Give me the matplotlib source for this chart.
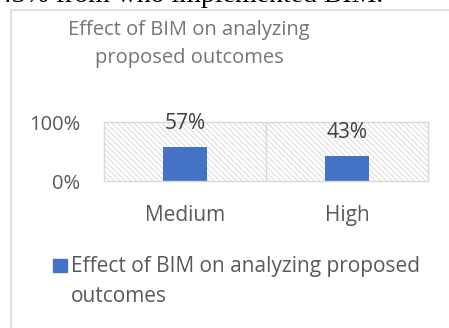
import matplotlib.pyplot as plt
from matplotlib.patches import Rectangle
from matplotlib.lines import Line2D

# data
categories = ['Medium', 'High']
values = [0.57, 0.43]
labels = ['57%', '43%']
label_y = [0.98, 0.83]   # labels were moved by hand in the original
yticks = [0, 1]
ytick_labels = ['0%', '100%']
series_name = 'Effect of BIM on analyzing proposed\noutcomes'
title = 'Effect of BIM on analyzing\nproposed outcomes'

plt.rcParams['font.family'] = ['Open Sans', 'DejaVu Sans']
plt.rcParams['hatch.linewidth'] = 0.6

fig = plt.figure(figsize=(4.49, 3.28), dpi=100)

# cropped caption line from the page above the chart
fig.text(-0.005, 1 - 1.5/328, '43% from who implemented BIM.', family='Liberation Serif',
         fontsize=20, color='black', va='baseline', ha='left')

# chart frame
fig.add_artist(Line2D([11/449, 11/449], [0, 1 - 10/328], color='#d9d9d9', lw=1.2,
                      transform=fig.transFigure))
fig.add_artist(Line2D([11/449, 1], [1 - 10/328, 1 - 10/328], color='#d9d9d9', lw=1.2,
                      transform=fig.transFigure))

fig.text(189/449, 1 - 44/328, title, ha='center', va='center', fontsize=14.5,
         color='#757575', linespacing=1.55)

ax = fig.add_axes([104/449, 1 - 181/328, 324/449, 59/328])
ax.add_patch(Rectangle((0, 0), 1, 1, transform=ax.transAxes, facecolor='white',
                       edgecolor='#d4d4d4', hatch='\\\\\\\\\\\\', lw=0, zorder=0))
x = list(range(len(categories)))
ax.bar(x, values, width=0.27, color='#4472c4', zorder=2)
ax.set_xlim(-0.5, len(categories) - 0.5)
ax.set_ylim(0, 1)
ax.axvline(0.5, color='#d9d9d9', lw=1, zorder=1)
for xi, ly, lab in zip(x, label_y, labels):
    ax.text(xi, ly, lab, ha='center', va='center', fontsize=15, color='#404040', zorder=3)

ax.set_yticks(yticks)
ax.set_yticklabels(ytick_labels)
ax.set_xticks(x)
ax.set_xticklabels(categories)
ax.tick_params(length=0, labelsize=14.5, labelcolor='#595959')
ax.tick_params(axis='y', pad=17)
ax.tick_params(axis='x', labelsize=15, pad=17)
for s in ax.spines.values():
    s.set_color('#d9d9d9')
    s.set_linewidth(1)

# legend drawn by hand so the square sits on the first line
fig.add_artist(Rectangle((53/449, 1 - 272/328), 14/449, 13/328, color='#4472c4',
                         transform=fig.transFigure))
fig.text(71/449, 1 - 256/328, series_name, ha='left', va='top', fontsize=15,
         color='#595959', linespacing=1.55)

fig.savefig('out.png', dpi=100)
